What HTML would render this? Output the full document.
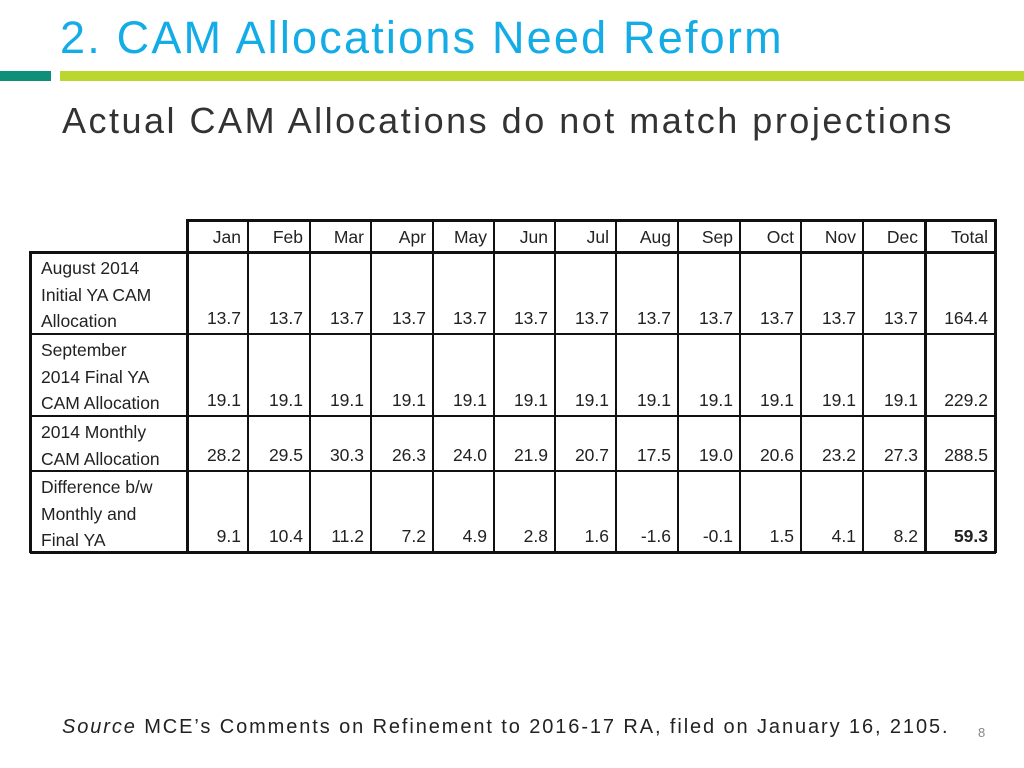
<!DOCTYPE html>
<html><head><meta charset="utf-8">
<style>
body{margin:0;width:1024px;height:768px;background:#fff;position:relative;overflow:hidden;font-family:"Liberation Sans",sans-serif}
.abs{position:absolute}
#title{left:60px;top:12px;font-size:45px;color:#14ace6;white-space:nowrap;letter-spacing:2.2px}
#sub{left:62px;top:100px;font-size:36px;color:#333;white-space:nowrap;letter-spacing:2.5px}
.cell{position:absolute;box-sizing:border-box;font-size:17.5px;color:#222;white-space:nowrap}
.line{position:absolute;background:#111}
</style></head><body>
<div class="abs" id="title">2. CAM Allocations Need Reform</div>
<div class="abs" style="left:0;top:71px;width:51px;height:10px;background:#0f8f78"></div>
<div class="abs" style="left:60px;top:71px;width:964px;height:10px;background:#bcd630"></div>
<div class="abs" id="sub">Actual CAM Allocations do not match projections</div>
<div id="tbl"></div>
<div class="abs" style="left:62px;top:716px;font-size:20px;color:#222;white-space:nowrap;letter-spacing:1.9px"><i>Source</i> MCE’s Comments on Refinement to 2016-17 RA, filed on January 16, 2105.</div>
<div class="abs" style="left:978px;top:725px;font-size:13px;color:#888">8</div>
<script>
const months=["Jan","Feb","Mar","Apr","May","Jun","Jul","Aug","Sep","Oct","Nov","Dec","Total"];
const rowLabels=[["August 2014","Initial YA CAM","Allocation"],["September","2014 Final YA","CAM Allocation"],["2014 Monthly","CAM Allocation"],["Difference b/w","Monthly and","Final YA"]];
const initialYA=["13.7","13.7","13.7","13.7","13.7","13.7","13.7","13.7","13.7","13.7","13.7","13.7","164.4"];
const finalYA=["19.1","19.1","19.1","19.1","19.1","19.1","19.1","19.1","19.1","19.1","19.1","19.1","229.2"];
const monthly=["28.2","29.5","30.3","26.3","24.0","21.9","20.7","17.5","19.0","20.6","23.2","27.3","288.5"];
const diff=["9.1","10.4","11.2","7.2","4.9","2.8","1.6","-1.6","-0.1","1.5","4.1","8.2","59.3"];
const rows=[initialYA,finalYA,monthly,diff];
const xs=[30,187,248,310,371,433,494,555,616,678,740,801,863,925,995];
const ys=[220,252,334,416,471,552];
const t=document.getElementById('tbl');
function line(x,y,w,h){const d=document.createElement('div');d.className='line';


d.style.cssText=`left:${x}px;top:${y}px;width:${w}px;height:${h}px`;t.appendChild(d);}
line(187,ys[0]-1,xs[14]-187+1,3);
for(let i=1;i<ys.length;i++)line(30,ys[i]-1,xs[14]-30+1,i==1||i==5?3:2);
line(29,ys[1]-1,3,ys[5]-ys[1]+2);
for(let j=1;j<xs.length;j++){const thick=(j==1||j==13||j==14);line(xs[j]-1,ys[0]-1,thick?3:2,ys[5]-ys[0]+2);}
months.forEach((m,j)=>{const c=document.createElement('div');c.className='cell';


c.style.cssText=`left:${xs[j+1]}px;top:${ys[0]+7}px;width:${xs[j+2]-xs[j+1]-7}px;text-align:right`;c.textContent=m;t.appendChild(c);});
rows.forEach((r,i)=>{
 const top=ys[i+1],bot=ys[i+2];
 const lab=document.createElement('div');lab.className='cell';
 
 
 lab.style.cssText=`left:41px;top:${top+3}px;line-height:26.5px`;lab.innerHTML=rowLabels[i].join('<br>');t.appendChild(lab);
 r.forEach((v,j)=>{const c=document.createElement('div');c.className='cell';
 
 
 c.style.cssText=`left:${xs[j+1]}px;top:${bot-26}px;width:${xs[j+2]-xs[j+1]-7}px;text-align:right`+(i==3&&j==12?';font-weight:bold':'');
 c.textContent=v;t.appendChild(c);});
});
</script>
</body></html>
